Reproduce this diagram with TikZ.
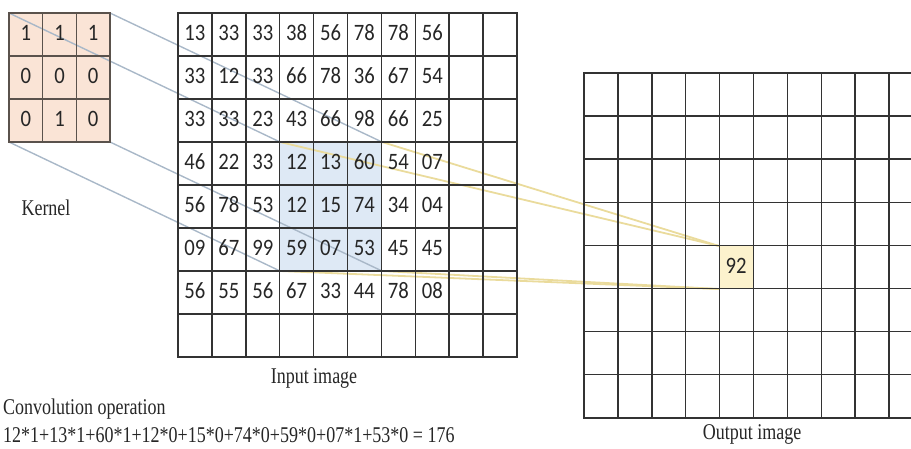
\documentclass[tikz,border=0pt]{standalone}
\usepackage{fontspec}
\setmainfont{Liberation Serif}[FakeStretch=0.8]
\newfontfamily\numfont{Carlito}[FakeStretch=0.88]
\definecolor{kfill}{HTML}{FAE4D6}
\definecolor{bfill}{HTML}{DEE9F5}
\definecolor{yfill}{HTML}{FCF2CD}
\definecolor{kline}{HTML}{A9B8C8}
\definecolor{yline}{HTML}{EADB9C}
\definecolor{gridc}{HTML}{333333}
\definecolor{kgridc}{HTML}{5A524C}
\begin{document}
\begin{tikzpicture}[x=1pt,y=-1pt,
  gl/.style={draw=gridc,line width=1.5pt,line cap=rect},
  kgl/.style={draw=kgridc,line width=1.5pt,line cap=rect},
  blueconn/.style={draw=kline,line width=1.4pt},
  yelconn/.style={draw=yline,line width=1.8pt},
  num/.style={inner sep=0pt,anchor=base,font=\numfont\fontsize{23.5}{27}\selectfont,text=black!85},
  lbl/.style={inner sep=0pt,anchor=base,font=\fontsize{22.5}{27}\selectfont,text=black!85}]
\useasboundingbox (0,0) rectangle (911,448);
\clip (0,0) rectangle (911,448);
% fills
\fill[kfill] (9,13) rectangle (110,142);
\fill[bfill] (280,142) rectangle (382,271);
\fill[yfill] (719,246) rectangle (753,289);
% named corners
\coordinate (kTL) at (9,13);
\coordinate (kTR) at (110,13);
\coordinate (kBL) at (9,142);
\coordinate (kBR) at (110,142);
\coordinate (hTL) at (280,142);
\coordinate (hTR) at (382,142);
\coordinate (hBL) at (280,271);
\coordinate (hBR) at (382,271);
\coordinate (oTL) at (719,246);
\coordinate (oBL) at (719,289);
% connectors kernel -> input window
\draw[blueconn] (kTL) -- (hTL);
\draw[blueconn] (kTR) -- (hTR);
\draw[blueconn] (kBL) -- (hBL);
\draw[blueconn] (kBR) -- (hBR);
% connectors input window -> output cell
\draw[yelconn] (hTL) -- (oTL);
\draw[yelconn] (hTR) -- (oTL);
\draw[yelconn] (hBL) -- (oBL);
\draw[yelconn] (hBR) -- (oBL);
% kernel grid
\foreach \i in {0,...,3} \draw[kgl] ({9+33.67*\i},13) -- ({9+33.67*\i},142);
\foreach \j in {0,...,3} \draw[kgl] (9,{13+43*\j}) -- (110,{13+43*\j});
% input grid
\foreach \i in {0,...,10} \draw[gl] ({178+33.9*\i},13) -- ({178+33.9*\i},357);
\foreach \j in {0,...,8} \draw[gl] (178,{13+43*\j}) -- (517,{13+43*\j});
% output grid
\foreach \i in {0,...,10} \draw[gl] ({584+33.9*\i},73) -- ({584+33.9*\i},418);
\foreach \j in {0,...,8} \draw[gl] (584,{73+43.1*\j}) -- (950,{73+43.1*\j});
% kernel values
\foreach \row [count=\r] in {{1,1,1},{0,0,0},{0,1,0}} {
  \foreach \v [count=\c] in \row {
    \node[num] (k-\r-\c) at ({9+33.67*(\c-0.5)},{13+43*(\r-1)+27}) {\v};
  }
}
% input values
\foreach \row [count=\r] in {
  {13,33,33,38,56,78,78,56},
  {33,12,33,66,78,36,67,54},
  {33,33,23,43,66,98,66,25},
  {46,22,33,12,13,60,54,07},
  {56,78,53,12,15,74,34,04},
  {09,67,99,59,07,53,45,45},
  {56,55,56,67,33,44,78,08}} {
  \foreach \v [count=\c] in \row {
    \node[num] (in-\r-\c) at ({178+33.9*(\c-0.5)},{13+43*(\r-1)+27}) {\v};
  }
}
% output value
\node[num] (out92) at (736,273) {92};
% labels
\node[lbl] (kernel) at (46,215) {Kernel};
\node[lbl] (inlbl) at (314,383) {Input image};
\node[lbl] (outlbl) at (752,439) {Output image};
\node[lbl,anchor=base west] (convlbl) at (3,414) {Convolution operation};
\node[lbl,anchor=base west] (formula) at (3,442) {12*1+13*1+60*1+12*0+15*0+74*0+59*0+07*1+53*0 = 176};
\end{tikzpicture}
\end{document}
